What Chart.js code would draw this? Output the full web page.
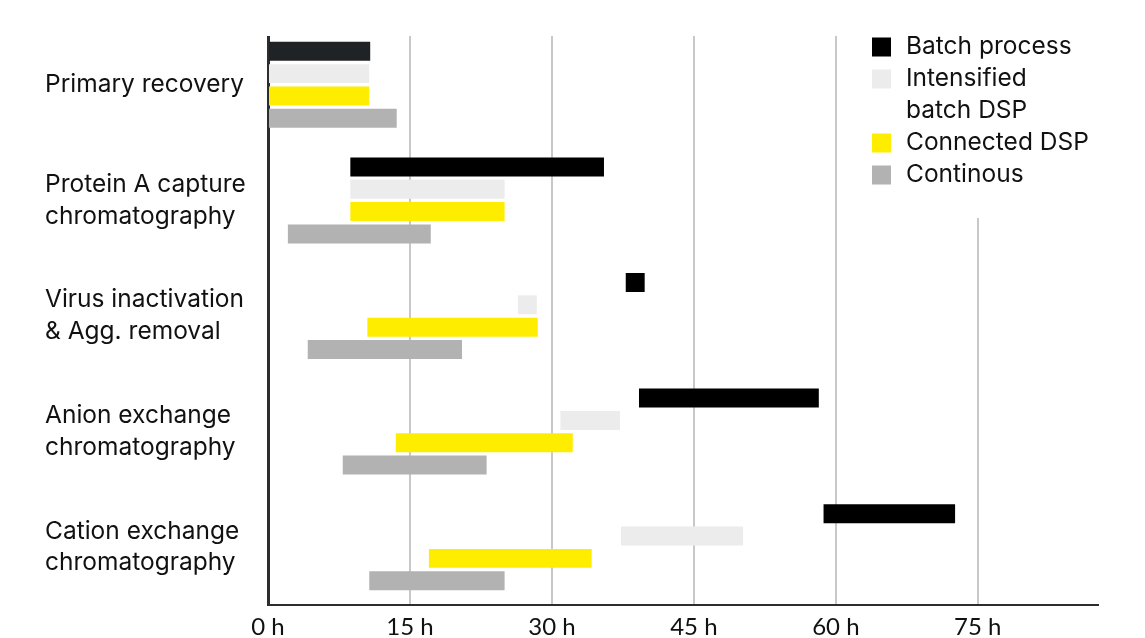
<!DOCTYPE html>
<html>
<head>
<meta charset="utf-8">
<title>DSP step timing</title>
<script src="https://cdn.jsdelivr.net/npm/chart.js@4/dist/chart.umd.min.js"></script>
<style>
  html, body { margin: 0; padding: 0; background: #ffffff; }
  #wrap { width: 1145px; height: 638px; position: relative; }
</style>
</head>
<body>
<div id="wrap"><canvas id="chart"></canvas></div>
<script>
// Process steps (multi-line labels)
const steps = [
  ['Primary recovery'],
  ['Protein A capture', 'chromatography'],
  ['Virus inactivation', '& Agg. removal'],
  ['Anion exchange', 'chromatography'],
  ['Cation exchange', 'chromatography']
];

// Start / end hours of each step per process mode
const batchProcess = [[0, 10.8], [8.7, 35.5], [37.8, 39.8], [39.2, 58.2], [58.7, 72.6]];
const intensifiedBatch = [[0, 10.7], [8.7, 25.0], [26.4, 28.4], [30.9, 37.2], [37.3, 50.2]];
const connectedDSP = [[0, 10.7], [8.7, 25.0], [10.5, 28.5], [13.5, 32.2], [17.0, 34.2]];
const continuous = [[0, 13.6], [2.1, 17.2], [4.2, 20.5], [7.9, 23.1], [10.7, 25.0]];

// Hour ticks on the time axis
const hourTicks = [0, 15, 30, 45, 60, 75];

const seriesNames = [['Batch process'], ['Intensified', 'batch DSP'], ['Connected DSP'], ['Continous']];
const seriesColors = ['#000000', '#ececec', '#ffed00', '#b2b2b2'];

const FONT = "Inter, 'Open Sans', sans-serif";
const TICK_FONT = "Lato, 'Open Sans', sans-serif";
const LABEL_SIZE = 24.5;

// Clears the strip above the plot and the legend box, then draws the legend
const legendPlugin = {
  id: 'sideLegend',
  beforeDatasetsDraw(chart) {
    const ctx = chart.ctx;
    const area = chart.chartArea;
    ctx.save();
    ctx.fillStyle = '#ffffff';
    ctx.fillRect(area.left - 4, 0, area.right - area.left + 8, 36);
    ctx.fillRect(846, 0, 299, 218);
    ctx.restore();
  },
  afterDraw(chart) {
    const ctx = chart.ctx;
    ctx.save();
    ctx.font = LABEL_SIZE + 'px ' + FONT;
    ctx.textBaseline = 'middle';
    ctx.textAlign = 'left';
    let y = 47;
    const step = 32;
    chart.data.datasets.forEach((ds, i) => {
      ctx.fillStyle = seriesColors[i];
      ctx.fillRect(872, y - 9.5, 19, 19);
      ctx.fillStyle = '#111111';
      seriesNames[i].forEach((line, j) => {
        ctx.fillText(line, 906, y + j * step);
      });
      y += step * seriesNames[i].length;
    });
    ctx.restore();
  }
};

const batchColors = batchProcess.map((_, i) => (i === 0 ? '#1f2326' : '#000000'));

new Chart(document.getElementById('chart'), {
  type: 'bar',
  data: {
    labels: steps,
    datasets: [
      { label: seriesNames[0].join(' '), data: batchProcess, backgroundColor: batchColors },
      { label: seriesNames[1].join(' '), data: intensifiedBatch, backgroundColor: seriesColors[1] },
      { label: seriesNames[2].join(' '), data: connectedDSP, backgroundColor: seriesColors[2] },
      { label: seriesNames[3].join(' '), data: continuous, backgroundColor: seriesColors[3] }
    ]
  },
  options: {
    indexAxis: 'y',
    responsive: true,
    maintainAspectRatio: false,
    animation: false,
    devicePixelRatio: 1,
    layout: { padding: { left: 45, right: 47, top: 27, bottom: 0 } },
    datasets: {
      bar: { categoryPercentage: 0.773, barPercentage: 0.85, borderWidth: 0 }
    },
    plugins: {
      legend: { display: false },
      tooltip: { enabled: false }
    },
    scales: {
      x: {
        type: 'linear',
        min: 0,
        max: 87.7,
        afterBuildTicks(scale) {
          scale.ticks = hourTicks.map(v => ({ value: v }));
        },
        afterFit(scale) {
          scale.height = 33;
          scale.paddingLeft = 0;
          scale.paddingRight = 0;
        },
        ticks: {
          padding: 8,
          color: '#111111',
          font: { family: TICK_FONT, size: 24 },
          maxRotation: 0,
          callback: v => v + ' h'
        },
        grid: {
          drawTicks: false,
          color: ctx => (ctx.tick && ctx.tick.value === 0 ? 'rgba(0,0,0,0)' : '#c8c8c8'),
          lineWidth: 2
        },
        border: { display: true, color: '#2a2e30', width: 2 }
      },
      y: {
        type: 'category',
        afterFit(scale) {
          scale.width = 223;
          scale.paddingTop = 0;
          scale.paddingBottom = 0;
        },
        ticks: {
          crossAlign: 'far',
          color: '#111111',
          padding: 0,
          font: { family: FONT, size: LABEL_SIZE, lineHeight: 1.3 }
        },
        grid: { display: false, drawTicks: false },
        border: { display: true, color: '#2a2e30', width: 3 }
      }
    }
  },
  plugins: [legendPlugin]
});
</script>
</body>
</html>
